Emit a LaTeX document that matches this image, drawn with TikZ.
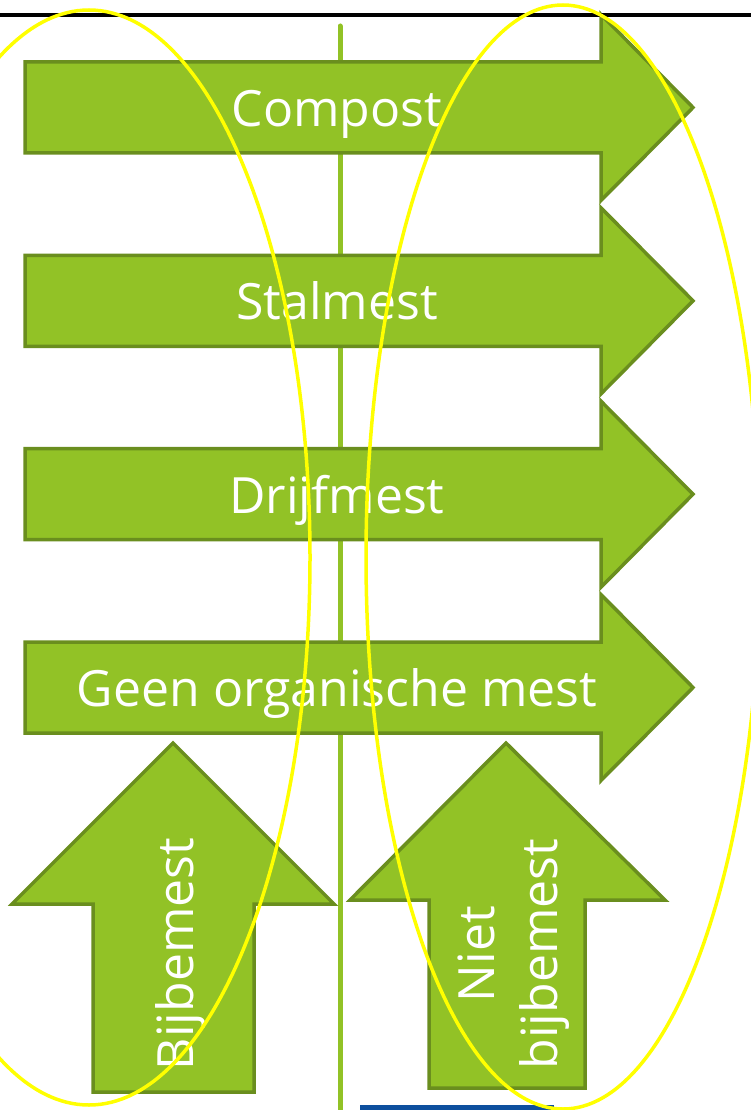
\documentclass[tikz,border=0pt]{standalone}
\usepackage{fontspec}
\setmainfont{Open Sans}
\definecolor{gfill}{HTML}{92C226}
\definecolor{gedge}{HTML}{6A8E1E}
\definecolor{bbar}{HTML}{0D4F9E}
\definecolor{ell}{HTML}{FFFF00}
\begin{document}
\begin{tikzpicture}[x=1pt,y=-1pt,
  arrowshape/.style={fill=gfill,draw=gedge,line width=3.5pt,line join=miter},
  label/.style={text=white,font=\fontsize{50}{63}\selectfont,inner sep=0pt},
  ellipseline/.style={draw=ell,line width=3.5pt}]
\useasboundingbox (0,0) rectangle (751,1110);
% vertical divider
\coordinate (vtop) at (340,26);
\coordinate (vbot) at (340,1112);
\draw[gfill,line width=5pt,line cap=round] (vtop) -- (vbot);
% right arrows
\foreach \c/\t/\n in {107.5/Compost/a1,300.8/Stalmest/a2,494.2/Drijfmest/a3,687.5/Geen organische mest/a4}{
  \draw[arrowshape] (25,\c-45.5) -- (601,\c-45.5) -- (601,\c-93) -- (693,\c) -- (601,\c+93) -- (601,\c+45.5) -- (25,\c+45.5) -- cycle;
  \node[label,anchor=base] (\n) at (337,\c+19) {\t};
}
% up arrows
\draw[arrowshape] (173,743) -- (334,904) -- (254,904) -- (254,1092) -- (93,1092) -- (93,904) -- (12,904) -- cycle;
\node[label,anchor=base,rotate=90] (bij) at (193,954) {Bijbemest};
\draw[arrowshape] (506,743) -- (665,900) -- (585,900) -- (585,1088) -- (429,1088) -- (429,900) -- (350,900) -- cycle;
\node[label,align=center,rotate=90] (niet) at (514,954) {Niet\\bijbemest};
% top rule
\draw[black,line width=3.5pt] (0,15) -- (751,15);
% bottom blue bar
\fill[bbar] (360,1105) rectangle (554,1112);
% yellow ellipses
\draw[ellipseline] (89,557.5) ellipse [x radius=221, y radius=547.5];
\draw[ellipseline] (563,557) ellipse [x radius=197, y radius=552];
\end{tikzpicture}
\end{document}
